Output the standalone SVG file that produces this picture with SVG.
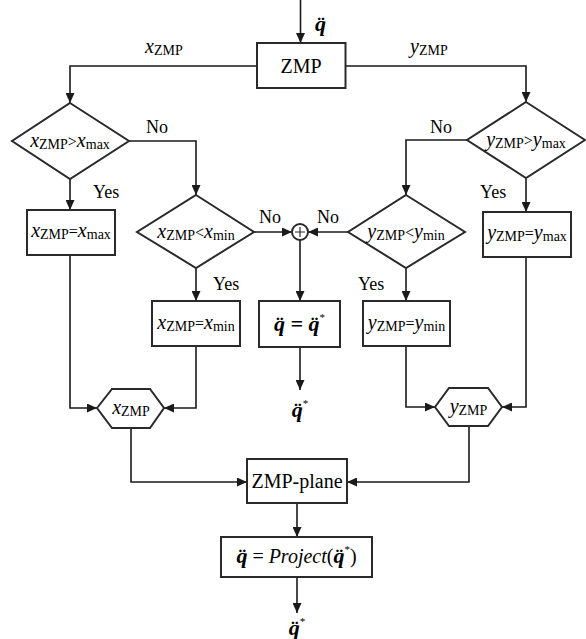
<svg xmlns="http://www.w3.org/2000/svg" width="586" height="639" viewBox="0 0 586 639">
  <defs>
    <marker id="arrow" markerUnits="userSpaceOnUse" markerWidth="11" markerHeight="9" refX="10" refY="4.5" orient="auto">
      <path d="M0,0 L10,4.5 L0,9 z" fill="#1a1a1a"/>
    </marker>
    <style>
      .shape { fill: #fff; stroke: #2a2a2a; stroke-width: 2; }
      .wire { fill: none; stroke: #1a1a1a; stroke-width: 1.6; marker-end: url(#arrow); }
      .lbl { font-size: 18px; }
      .big { font-size: 20px; }
      .it { font-style: italic; }
      .sub { font-size: 14px; font-style: normal; }
      .op { font-size: 16px; font-style: normal; }
      .q { font-weight: bold; font-style: italic; font-size: 22px; }
      .star { font-size: 11px; font-weight: normal; font-style: normal; }
    </style>
  </defs>

  <!-- connectors -->
  <g id="connectors">
    <line class="wire" x1="300.5" y1="0" x2="300.5" y2="43"/>
    <polyline class="wire" points="257,66 70,66 70,103"/>
    <polyline class="wire" points="345.5,66 526,66 526,102"/>
    <line class="wire" x1="70" y1="179" x2="70" y2="210"/>
    <polyline class="wire" points="129,141 196,141 196,195"/>
    <line class="wire" x1="526" y1="178" x2="526" y2="212"/>
    <polyline class="wire" points="467,140 406,140 406,195"/>
    <line class="wire" x1="254" y1="232" x2="292" y2="232"/>
    <line class="wire" x1="348" y1="232" x2="308" y2="232"/>
    <line class="wire" x1="300" y1="240" x2="300" y2="301"/>
    <line class="wire" x1="300" y1="347" x2="300" y2="390"/>
    <line class="wire" x1="196" y1="268" x2="196" y2="301"/>
    <line class="wire" x1="406" y1="268" x2="406" y2="301"/>
    <polyline class="wire" points="70,255 70,408 97,408"/>
    <polyline class="wire" points="196,346 196,408 164,408"/>
    <polyline class="wire" points="406,346 406,407 435,407"/>
    <polyline class="wire" points="526,257 526,407 502,407"/>
    <polyline class="wire" points="131,428 131,482 247,482"/>
    <polyline class="wire" points="469,426 469,482 347,482"/>
    <line class="wire" x1="297" y1="503" x2="297" y2="537"/>
    <line class="wire" x1="297" y1="577" x2="297" y2="613"/>
  </g>

  <!-- input and output labels -->
  <g id="labels">
    <text style="font-family:'Liberation Serif',serif" class="q" x="315" y="31">q&#776;</text>
    <text style="font-family:'Liberation Serif',serif" x="145" y="53"><tspan class="big it">x</tspan><tspan class="sub" dy="2">ZMP</tspan></text>
    <text style="font-family:'Liberation Serif',serif" x="410" y="53"><tspan class="big it">y</tspan><tspan class="sub" dy="2">ZMP</tspan></text>
    <text style="font-family:'Liberation Serif',serif" class="lbl" x="146" y="133">No</text>
    <text style="font-family:'Liberation Serif',serif" class="lbl" x="430" y="133">No</text>
    <text style="font-family:'Liberation Serif',serif" class="lbl" x="259" y="223">No</text>
    <text style="font-family:'Liberation Serif',serif" class="lbl" x="317" y="223">No</text>
    <text style="font-family:'Liberation Serif',serif" class="lbl" x="93" y="198">Yes</text>
    <text style="font-family:'Liberation Serif',serif" class="lbl" x="480" y="198">Yes</text>
    <text style="font-family:'Liberation Serif',serif" class="lbl" x="213" y="290">Yes</text>
    <text style="font-family:'Liberation Serif',serif" class="lbl" x="358" y="290">Yes</text>
    <text style="font-family:'Liberation Serif',serif" class="q" x="300" y="417" text-anchor="middle">q&#776;<tspan class="star" dy="-10">*</tspan></text>
    <text style="font-family:'Liberation Serif',serif" class="q" x="297" y="635" text-anchor="middle">q&#776;<tspan class="star" dy="-10">*</tspan></text>
  </g>

  <g id="zmp">
    <rect class="shape" x="257" y="43" width="88.5" height="45"/>
    <text style="font-family:'Liberation Serif',serif" class="big" x="301" y="73" text-anchor="middle">ZMP</text>
  </g>

  <g id="x-max-test">
    <polygon class="shape" points="70,103 129,141 70,179 12,141"/>
    <text style="font-family:'Liberation Serif',serif" x="70" y="147" text-anchor="middle"><tspan class="big it">x</tspan><tspan class="sub" dy="2">ZMP</tspan><tspan class="op" dy="-2">&gt;</tspan><tspan class="big it">x</tspan><tspan class="sub" dy="2">max</tspan></text>
  </g>

  <g id="y-max-test">
    <polygon class="shape" points="526,102 585,140 526,178 467,140"/>
    <text style="font-family:'Liberation Serif',serif" x="526" y="146" text-anchor="middle"><tspan class="big it">y</tspan><tspan class="sub" dy="2">ZMP</tspan><tspan class="op" dy="-2">&gt;</tspan><tspan class="big it">y</tspan><tspan class="sub" dy="2">max</tspan></text>
  </g>

  <g id="x-max-set">
    <rect class="shape" x="27" y="210" width="88" height="45"/>
    <text style="font-family:'Liberation Serif',serif" x="71" y="237" text-anchor="middle"><tspan class="big it">x</tspan><tspan class="sub" dy="2">ZMP</tspan><tspan class="op" dy="-2">=</tspan><tspan class="big it">x</tspan><tspan class="sub" dy="2">max</tspan></text>
  </g>

  <g id="y-max-set">
    <rect class="shape" x="483" y="212" width="88" height="45"/>
    <text style="font-family:'Liberation Serif',serif" x="527" y="239" text-anchor="middle"><tspan class="big it">y</tspan><tspan class="sub" dy="2">ZMP</tspan><tspan class="op" dy="-2">=</tspan><tspan class="big it">y</tspan><tspan class="sub" dy="2">max</tspan></text>
  </g>

  <g id="x-min-test">
    <polygon class="shape" points="196,195 254,232 196,268 137,232"/>
    <text style="font-family:'Liberation Serif',serif" x="196" y="238" text-anchor="middle"><tspan class="big it">x</tspan><tspan class="sub" dy="2">ZMP</tspan><tspan class="op" dy="-2">&lt;</tspan><tspan class="big it">x</tspan><tspan class="sub" dy="2">min</tspan></text>
  </g>

  <g id="y-min-test">
    <polygon class="shape" points="406,195 465,232 406,268 348,232"/>
    <text style="font-family:'Liberation Serif',serif" x="406" y="238" text-anchor="middle"><tspan class="big it">y</tspan><tspan class="sub" dy="2">ZMP</tspan><tspan class="op" dy="-2">&lt;</tspan><tspan class="big it">y</tspan><tspan class="sub" dy="2">min</tspan></text>
  </g>

  <g id="sum">
    <circle class="shape" cx="300" cy="232" r="8" stroke-width="1.5"/>
    <path d="M300,227 V237 M295,232 H305" stroke="#2a2a2a" stroke-width="1.2"/>
  </g>

  <g id="pass-through">
    <rect class="shape" x="259" y="301" width="81" height="46"/>
    <text style="font-family:'Liberation Serif',serif" class="q" x="299.5" y="331" text-anchor="middle">q&#776; = q&#776;<tspan class="star" dy="-10">*</tspan></text>
  </g>

  <g id="x-min-set">
    <rect class="shape" x="152" y="301" width="88" height="45"/>
    <text style="font-family:'Liberation Serif',serif" x="196" y="329" text-anchor="middle"><tspan class="big it">x</tspan><tspan class="sub" dy="2">ZMP</tspan><tspan class="op" dy="-2">=</tspan><tspan class="big it">x</tspan><tspan class="sub" dy="2">min</tspan></text>
  </g>

  <g id="y-min-set">
    <rect class="shape" x="363" y="301" width="87" height="45"/>
    <text style="font-family:'Liberation Serif',serif" x="406.5" y="329" text-anchor="middle"><tspan class="big it">y</tspan><tspan class="sub" dy="2">ZMP</tspan><tspan class="op" dy="-2">=</tspan><tspan class="big it">y</tspan><tspan class="sub" dy="2">min</tspan></text>
  </g>

  <g id="x-zmp">
    <polygon class="shape" points="97,408 112,389 150,389 164,408 150,428 112,428"/>
    <text style="font-family:'Liberation Serif',serif" x="131" y="414" text-anchor="middle"><tspan class="big it">x</tspan><tspan class="sub" dy="2">ZMP</tspan></text>
  </g>

  <g id="y-zmp">
    <polygon class="shape" points="435,407 449,388 488,388 502,407 488,426 449,426"/>
    <text style="font-family:'Liberation Serif',serif" x="468.5" y="413" text-anchor="middle"><tspan class="big it">y</tspan><tspan class="sub" dy="2">ZMP</tspan></text>
  </g>

  <g id="zmp-plane">
    <rect class="shape" x="247" y="459" width="100" height="44"/>
    <text style="font-family:'Liberation Serif',serif" class="big" x="297" y="488" text-anchor="middle">ZMP-plane</text>
  </g>

  <g id="project">
    <rect class="shape" x="221" y="537" width="151" height="40"/>
    <text style="font-family:'Liberation Serif',serif" x="296.5" y="563" text-anchor="middle"><tspan class="q">q&#776;</tspan><tspan class="big"> = </tspan><tspan class="big it">Project</tspan><tspan class="big">(</tspan><tspan class="q">q&#776;</tspan><tspan class="star" dy="-10">*</tspan><tspan class="big" dy="10">)</tspan></text>
  </g>
</svg>
